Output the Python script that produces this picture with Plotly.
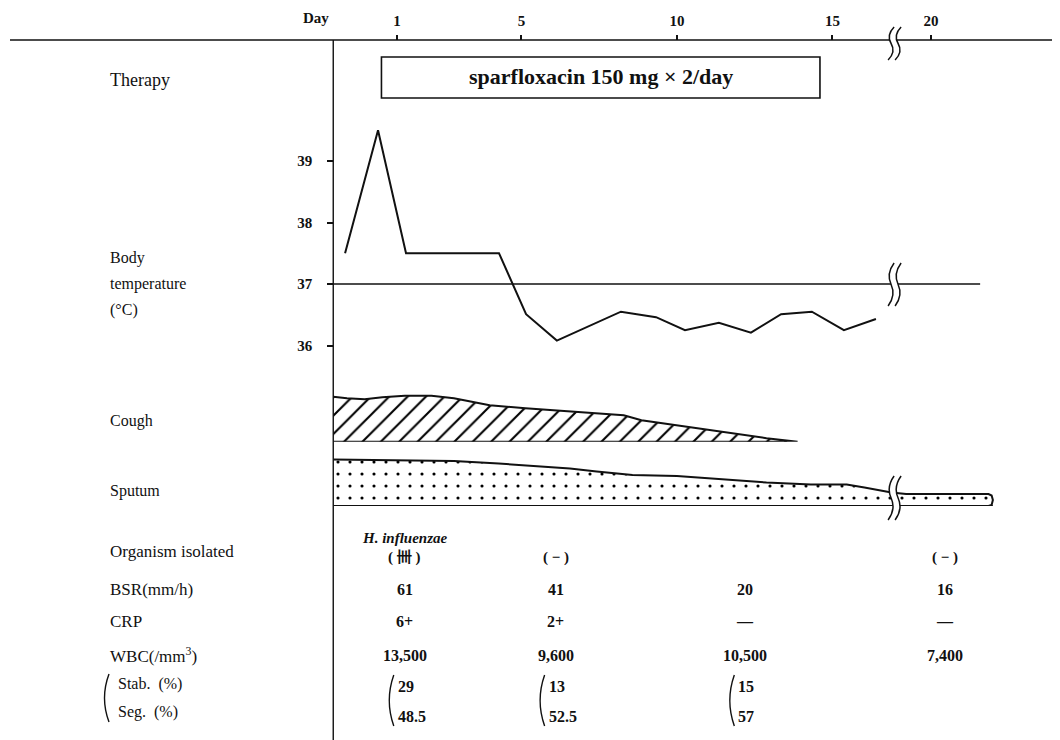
import plotly.graph_objects as go

# ---------------- data ----------------
tick_days = [1, 5, 10, 15, 20]
therapy_start, therapy_end = 0.5, 14.6
therapy_label = "sparfloxacin 150 mg × 2/day"

temp_days = [-0.67, 0.39, 1.29, 4.28, 5.15, 6.14, 8.2, 9.33, 10.26, 11.35, 12.38, 13.35, 14.34, 15.37, 16.4]
temp_vals = [37.5, 39.5, 37.5, 37.5, 36.51, 36.08, 36.55, 36.46, 36.25, 36.37, 36.21, 36.51, 36.55, 36.25, 36.43]
temp_ticks = [36, 37, 38, 39]
normal_temp = 37
normal_line_end = 21.58

cough_days = [-1.05, -0.61, -0.04, 0.53, 1.25, 2.11, 2.83, 3.98, 5.13, 6.56, 8.29, 8.86, 10.0, 11.44, 12.88, 13.88]
cough_level = [0.9, 0.87, 0.85, 0.89, 0.92, 0.92, 0.87, 0.73, 0.67, 0.6, 0.53, 0.43, 0.33, 0.2, 0.07, 0.0]

sputum_days = [-1.05, -0.04, 2.83, 4.27, 6.56, 7.42, 8.57, 10.0, 11.44, 12.88, 14.31, 15.46, 16.03, 16.61, 16.9,
               19.2, 21.85, 21.95, 21.99, 21.95, 21.85]
sputum_level = [0.93, 0.92, 0.9, 0.85, 0.75, 0.69, 0.62, 0.6, 0.53, 0.47, 0.43, 0.43, 0.37, 0.3, 0.27,
                0.24, 0.24, 0.21, 0.12, 0.02, 0.0]

lab_days = [1.25, 6.1, 12.2, 20.45]
organism = ["( 卌 )", "( − )", "", "( − )"]
organism_name = "H. influenzae"
bsr = ["61", "41", "20", "16"]
crp = ["6+", "2+", "—", "—"]
wbc = ["13,500", "9,600", "10,500", "7,400"]
stab = ["29", "13", "15", ""]
seg = ["48.5", "52.5", "57", ""]

# ---------------- layout helpers ----------------
OFF = 8                      # page body margin of the browser
W, H = 1060 - OFF, 740 - OFF
AXIS_DAY = -1.05             # left boundary of the chart body
BREAK_AT, GAP = 17.0, 1.83   # axis break (days hidden)
X0_PX, PX_PER_DAY = 397.0, 31.1
T37_PX, PX_PER_DEG = 284.0, 61.5


def pos(d):
    return d if d <= BREAK_AT else d - GAP


def ax_px(a):
    return X0_PX + (a - 1) * PX_PER_DAY


def px(p):
    return (p - OFF) / W


def py(p):
    return 1 - (p - OFF) / H


SERIF = "Liberation Serif"
BLACK = "#111111"

fig = go.Figure()

# temperature
fig.add_trace(go.Scatter(x=[pos(d) for d in temp_days], y=temp_vals, mode="lines",
                         line=dict(color=BLACK, width=2), xaxis="x", yaxis="y", hoverinfo="skip"))

# cough band
cx = [pos(d) for d in cough_days]
fig.add_trace(go.Scatter(x=cx + cx[::-1], y=cough_level + [0] * len(cx), mode="lines", fill="toself",
                         fillcolor="white",
                         fillpattern=dict(shape="/", size=13, solidity=0.16, fgcolor="#000000",
                                          bgcolor="white", fgopacity=1),
                         line=dict(color=BLACK, width=2), xaxis="x", yaxis="y2", hoverinfo="skip"))

# sputum band
sx = [pos(d) for d in sputum_days]
fig.add_trace(go.Scatter(x=sx + sx[::-1][1:], y=sputum_level + [0] * (len(sx) - 1), mode="lines", fill="toself",
                         fillcolor="white",
                         fillpattern=dict(shape=".", size=12, solidity=0.055, fgcolor="#000000",
                                          bgcolor="white", fgopacity=1),
                         line=dict(color=BLACK, width=2), xaxis="x", yaxis="y3", hoverinfo="skip"))

shapes = []
# top axis line
shapes.append(dict(type="line", xref="paper", yref="paper", x0=px(10), x1=1, y0=py(40), y1=py(40),
                   line=dict(color=BLACK, width=1.6)))
# vertical body axis
shapes.append(dict(type="line", xref="x", yref="paper", x0=pos(AXIS_DAY), x1=pos(AXIS_DAY), y0=0, y1=py(40),
                   line=dict(color=BLACK, width=1.4)))
# normal temperature line
shapes.append(dict(type="line", xref="x", yref="y", x0=pos(AXIS_DAY), x1=pos(normal_line_end),
                   y0=normal_temp, y1=normal_temp, line=dict(color=BLACK, width=1.6)))
# therapy box
shapes.append(dict(type="rect", xref="x", yref="paper", x0=pos(therapy_start), x1=pos(therapy_end),
                   y0=py(98), y1=py(57), line=dict(color=BLACK, width=1.6), fillcolor="rgba(0,0,0,0)"))


def s_curve(x, top, bot):
    mid = (top + bot) / 2
    return (f"M {px(x + 3)},{py(top)} Q {px(x - 5)},{py((top + mid) / 2)} {px(x)},{py(mid)} "
            f"Q {px(x + 5)},{py((mid + bot) / 2)} {px(x - 3)},{py(bot)}")


def add_break(cxp, top, bot, sep=7):
    mid = (top + bot) / 2
    a, b = cxp - sep / 2, cxp + sep / 2
    gap = (f"M {px(a + 3)},{py(top)} Q {px(a - 5)},{py((top + mid) / 2)} {px(a)},{py(mid)} "
           f"Q {px(a + 5)},{py((mid + bot) / 2)} {px(a - 3)},{py(bot)} "
           f"L {px(b - 3)},{py(bot)} Q {px(b + 5)},{py((mid + bot) / 2)} {px(b)},{py(mid)} "
           f"Q {px(b - 5)},{py((top + mid) / 2)} {px(b + 3)},{py(top)} Z")
    shapes.append(dict(type="path", xref="paper", yref="paper", path=gap, fillcolor="white",
                       line=dict(width=0)))
    for xx in (a, b):
        shapes.append(dict(type="path", xref="paper", yref="paper", path=s_curve(xx, top, bot),
                           line=dict(color=BLACK, width=1.5)))


brk_px = ax_px(BREAK_AT)
add_break(brk_px, 27, 60)
add_break(brk_px, 263, 306)
add_break(brk_px, 476, 520)


def paren(xl, top, bot):
    mid = (top + bot) / 2
    shapes.append(dict(type="path", xref="paper", yref="paper",
                       path=f"M {px(xl + 5)},{py(top)} Q {px(xl - 4)},{py(mid)} {px(xl + 5)},{py(bot)}",
                       line=dict(color=BLACK, width=1.4)))


paren(104, 674, 722)

ann = []


def text(x, y, s, size=17, xref="paper", anchor="left", bold=False, italic=False, xshift=0):
    if bold:
        s = f"<b>{s}</b>"
    if italic:
        s = f"<i>{s}</i>"
    ann.append(dict(x=x, y=y, xref=xref, yref="paper", text=s, showarrow=False, xanchor=anchor,
                    yanchor="middle", xshift=xshift, font=dict(family=SERIF, size=size, color=BLACK)))


# left labels
LX = px(108)
text(LX, py(80), "Therapy", size=18)
text(LX, py(258), "Body", size=16)
text(LX, py(284), "temperature", size=16)
text(LX, py(310), "(°C)", size=16)
text(LX, py(421), "Cough", size=16)
text(LX, py(491), "Sputum", size=16)
text(LX, py(551), "Organism isolated", size=17)
text(LX, py(589), "BSR(mm/h)", size=17)
text(LX, py(621), "CRP", size=17)
text(LX, py(655), "WBC(/mm<sup>3</sup>)", size=17)
text(px(116), py(684), "Stab.  (%)", size=16)
text(px(116), py(712), "Seg.  (%)", size=16)

# top axis "Day"
text(px(316), py(18), "Day", size=15, anchor="center", bold=True)

# therapy label
text((pos(therapy_start) + pos(therapy_end)) / 2, py(77), therapy_label, size=22, xref="x", anchor="center",
     bold=True)

# lab table
text(pos(lab_days[0]), py(538), organism_name, size=15, xref="x", anchor="center", bold=True, italic=True)
for d, o, b, c, w_, st, sg in zip(lab_days, organism, bsr, crp, wbc, stab, seg):
    xx = pos(d)
    if o:
        text(xx, py(557), o, size=15, xref="x", anchor="center", bold=True)
    text(xx, py(589), b, size=16, xref="x", anchor="center", bold=True)
    text(xx, py(621), c, size=16, xref="x", anchor="center", bold=True)
    text(xx, py(655), w_, size=16, xref="x", anchor="center", bold=True)
    if st:
        text(xx, py(686), st, size=16, xref="x", anchor="left", bold=True, xshift=-9)
        text(xx, py(716), sg, size=16, xref="x", anchor="left", bold=True, xshift=-9)
        paren(ax_px(xx) - 16, 675, 726)

fig.update_layout(
    width=W, height=H, margin=dict(l=0, r=0, t=0, b=0),
    paper_bgcolor="white", plot_bgcolor="white", showlegend=False,
    shapes=shapes, annotations=ann,
    xaxis=dict(range=[1 + (OFF - X0_PX) / PX_PER_DAY, 1 + (1060 - X0_PX) / PX_PER_DAY], domain=[0, 1],
               anchor="free", position=py(40), side="top", ticks="outside", ticklen=5, tickwidth=1.5,
               tickcolor=BLACK, tickvals=[pos(d) for d in tick_days], ticktext=[f"<b>{d}</b>" for d in tick_days],
               showgrid=False, zeroline=False, showline=False, ticklabelstandoff=3,
               tickfont=dict(family=SERIF, size=15, color=BLACK), fixedrange=True),
    yaxis=dict(range=[37 - (740 - T37_PX) / PX_PER_DEG, 37 + (T37_PX - OFF) / PX_PER_DEG], domain=[0, 1],
               anchor="free", position=px(ax_px(pos(AXIS_DAY))), side="left", ticks="outside", ticklen=6,
               tickwidth=1.5, tickcolor=BLACK, tickvals=temp_ticks, ticktext=[f"<b>{t}</b>" for t in temp_ticks],
               showgrid=False, zeroline=False, showline=False, ticklabelstandoff=12,
               tickfont=dict(family=SERIF, size=15, color=BLACK), fixedrange=True),
    yaxis2=dict(domain=[py(441.7), py(391.7)], range=[0, 1], visible=False, anchor="x", fixedrange=True),
    yaxis3=dict(domain=[py(506), py(456)], range=[0, 1], visible=False, anchor="x", fixedrange=True),
)

fig.write_html("out.html")
